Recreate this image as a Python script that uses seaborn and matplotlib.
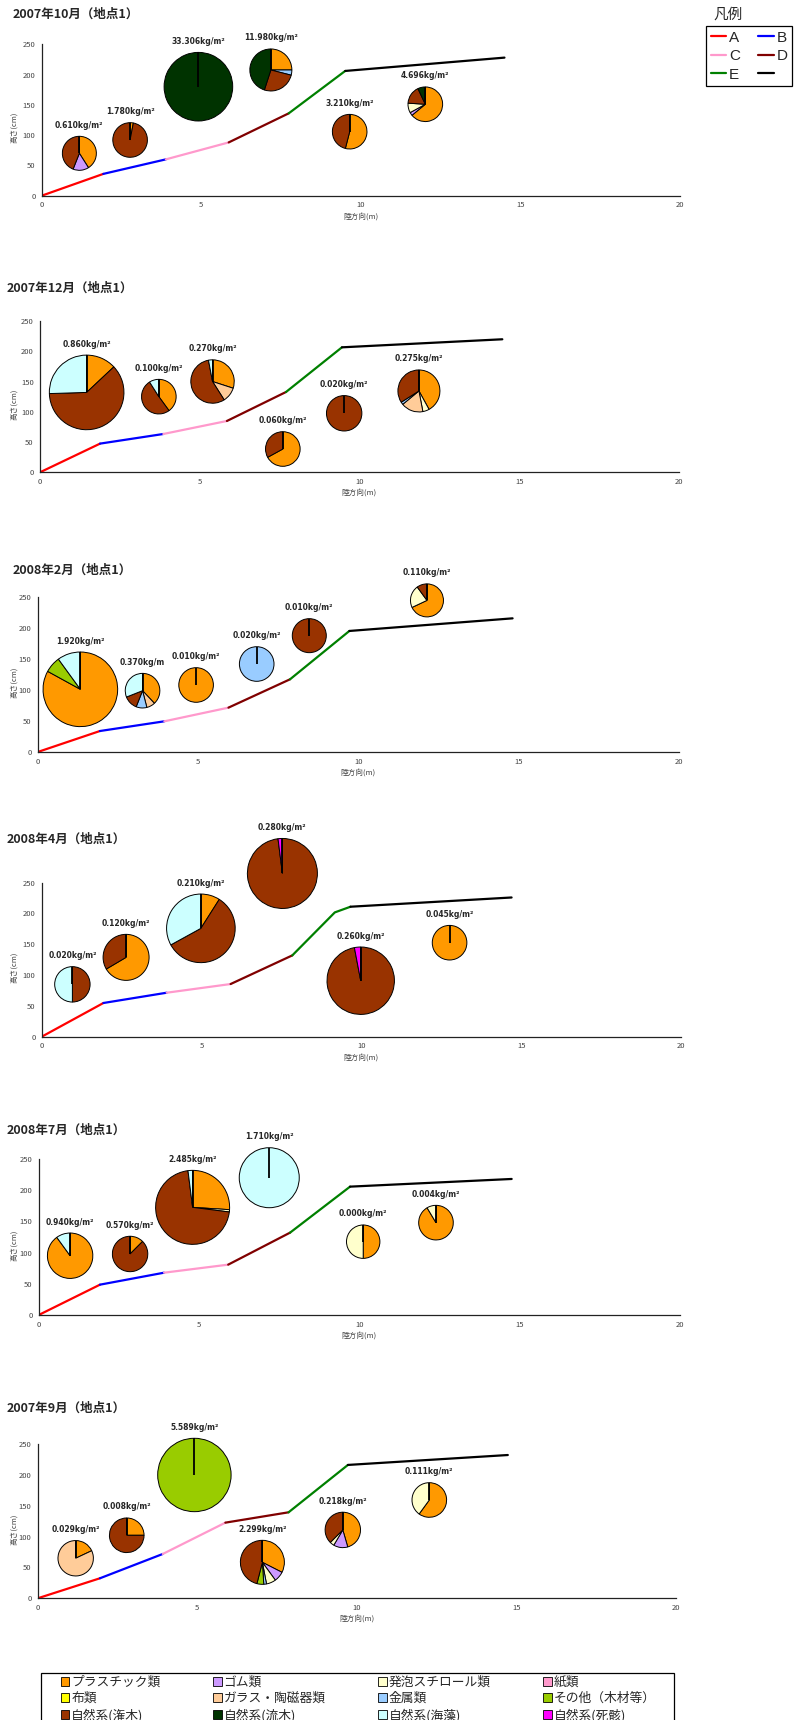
import numpy as np
import pandas as pd
import matplotlib
matplotlib.use('Agg')
import matplotlib.pyplot as plt
import matplotlib.patches as mpatches
from matplotlib.lines import Line2D
import seaborn as sns

# ---- categories (Excel pie order, clockwise from 12 o'clock) ----
categories = ['プラスチック類', 'ゴム類', '発泡スチロール類', '紙類',
              '布類', 'ガラス・陶磁器類', '金属類', 'その他（木材等）',
              '自然系(潅木)', '自然系(流木)', '自然系(海藻)', '自然系(死骸)']
cat_colors = ['#FF9900', '#CC99FF', '#FFFFCC', '#FF99CC',
              '#FFFF00', '#FFCC99', '#99CCFF', '#99CC00',
              '#993300', '#003300', '#CCFFFF', '#FF00FF']

seg_names = ['A', 'B', 'C', 'D', 'E', 'F']
seg_labels = ['A', 'B', 'C', 'D', 'E', '']
seg_colors = ['#FF0000', '#0000FF', '#FF99CC', '#800000', '#008000', '#000000']

# ---- 2007年10月 ----
oct07_prof_x = [0, 1.93, 3.89, 5.86, 7.74, 9.51, 14.5]
oct07_prof_y = [0, 36, 60, 88, 136, 206, 228]
oct07_prof_seg = ['A', 'B', 'C', 'D', 'E', 'F']
oct07_pie_x = [1.18, 2.77, 4.91, 7.18, 9.65, 12.02]
oct07_pie_y = [70, 92, 180, 207.6, 105.7, 151]
oct07_labels = ['0.610kg/m²', '1.780kg/m²', '33.306kg/m²', '11.980kg/m²', '3.210kg/m²', '4.696kg/m²']
oct07_share = [
    [41, 15, 0, 0, 0, 0, 0, 0, 44, 0, 0, 0],
    [3, 0, 0, 0, 0, 0, 0, 0, 97, 0, 0, 0],
    [0, 0, 0, 0, 0, 0, 0, 0, 0, 100, 0, 0],
    [25, 0, 0, 0, 0, 0, 4, 0, 26, 45, 0, 0],
    [54, 0, 0, 0, 0, 0, 0, 0, 46, 0, 0, 0],
    [64, 3, 9, 0, 0, 0, 0, 0, 17, 7, 0, 0],
]

# ---- 2007年12月 ----
dec07_prof_x = [0, 1.88, 3.86, 5.85, 7.70, 9.45, 14.47]
dec07_prof_y = [0, 47.4, 63.3, 84.8, 132.7, 206.5, 219.8]
dec07_prof_seg = ['A', 'B', 'C', 'D', 'E', 'F']
dec07_pie_x = [1.46, 3.72, 5.40, 7.60, 9.52, 11.86]
dec07_pie_y = [132, 125, 150, 38.5, 97.5, 134.4]
dec07_labels = ['0.860kg/m²', '0.100kg/m²', '0.270kg/m²', '0.060kg/m²', '0.020kg/m²', '0.275kg/m²']
dec07_share = [
    [13, 0, 0, 0, 0, 0, 0, 0, 61.5, 0, 25.5, 0],
    [40, 0, 0, 0, 0, 0, 0, 0, 51, 0, 9, 0],
    [30, 0, 0, 0, 0, 11, 0, 0, 56, 0, 3, 0],
    [67, 0, 0, 0, 0, 0, 0, 0, 33, 0, 0, 0],
    [0, 0, 0, 0, 0, 0, 0, 0, 100, 0, 0, 0],
    [42, 0, 5, 0, 0, 17, 2, 0, 34, 0, 0, 0],
]

# ---- 2008年2月 ----
feb08_prof_x = [0, 1.94, 3.95, 5.95, 7.87, 9.72, 14.81]
feb08_prof_y = [0, 33.9, 49.6, 71.7, 117.5, 195.6, 216]
feb08_prof_seg = ['A', 'B', 'C', 'D', 'E', 'F']
feb08_pie_x = [1.33, 3.27, 4.94, 6.83, 8.47, 12.14]
feb08_pie_y = [101.3, 99.1, 108.3, 142.2, 188, 245]
feb08_labels = ['1.920kg/m²', '0.370kg/m', '0.010kg/m²', '0.020kg/m²', '0.010kg/m²', '0.110kg/m²']
feb08_share = [
    [83, 0, 0, 0, 0, 0, 0, 7, 0, 0, 10, 0],
    [38, 0, 0, 0, 0, 8, 10, 0, 13, 0, 31, 0],
    [100, 0, 0, 0, 0, 0, 0, 0, 0, 0, 0, 0],
    [0, 0, 0, 0, 0, 0, 100, 0, 0, 0, 0, 0],
    [0, 0, 0, 0, 0, 0, 0, 0, 100, 0, 0, 0],
    [68, 0, 22, 0, 0, 0, 0, 0, 10, 0, 0, 0],
]

# ---- 2008年4月 ----
apr08_prof_x = [0, 1.93, 3.91, 5.91, 7.84, 9.17, 9.66, 14.70]
apr08_prof_y = [0, 54.7, 71.4, 85.5, 132, 201.8, 211, 226]
apr08_prof_seg = ['A', 'B', 'C', 'D', 'E', 'E', 'F']
apr08_pie_x = [0.96, 2.64, 4.98, 7.53, 9.98, 12.76]
apr08_pie_y = [85, 128.8, 175.9, 265, 90.9, 152.6]
apr08_labels = ['0.020kg/m²', '0.120kg/m²', '0.210kg/m²', '0.280kg/m²', '0.260kg/m²', '0.045kg/m²']
apr08_share = [
    [0, 0, 0, 0, 0, 0, 0, 0, 50, 0, 50, 0],
    [66.5, 0, 0, 0, 0, 0, 0, 0, 33.5, 0, 0, 0],
    [9, 0, 0, 0, 0, 0, 0, 0, 58, 0, 33, 0],
    [0, 0, 0, 0, 0, 0, 0, 0, 98, 0, 0, 2],
    [0, 0, 0, 0, 0, 0, 0, 0, 97, 0, 0, 3],
    [100, 0, 0, 0, 0, 0, 0, 0, 0, 0, 0, 0],
]

# ---- 2008年7月 ----
jul08_prof_x = [0, 1.91, 3.91, 5.91, 7.84, 9.71, 14.75]
jul08_prof_y = [0, 48.6, 67.8, 80.7, 132, 205.7, 218]
jul08_prof_seg = ['A', 'B', 'C', 'D', 'E', 'F']
jul08_pie_x = [0.98, 2.85, 4.80, 7.19, 10.12, 12.39]
jul08_pie_y = [95, 97.8, 172.5, 220, 117.5, 148]
jul08_labels = ['0.940kg/m²', '0.570kg/m²', '2.485kg/m²', '1.710kg/m²', '0.000kg/m²', '0.004kg/m²']
jul08_share = [
    [90, 0, 0, 0, 0, 0, 0, 0, 0, 0, 10, 0],
    [12.5, 0, 0, 0, 0, 0, 0, 0, 87.5, 0, 0, 0],
    [26, 0, 1, 0, 0, 0, 0, 0, 71, 0, 2, 0],
    [0, 0, 0, 0, 0, 0, 0, 0, 0, 0, 100, 0],
    [50, 0, 50, 0, 0, 0, 0, 0, 0, 0, 0, 0],
    [91.4, 0, 8.6, 0, 0, 0, 0, 0, 0, 0, 0, 0],
]

# ---- 2007年9月 ----
sep07_prof_x = [0, 1.95, 3.92, 5.88, 7.86, 9.72, 14.73]
sep07_prof_y = [0, 32.5, 72, 122.8, 139.6, 216.5, 232.6]
sep07_prof_seg = ['A', 'B', 'C', 'D', 'E', 'F']
sep07_pie_x = [1.19, 2.79, 4.91, 7.04, 9.56, 12.27]
sep07_pie_y = [65, 102.3, 200.2, 58.4, 111, 159.6]
sep07_labels = ['0.029kg/m²', '0.008kg/m²', '5.589kg/m²', '2.299kg/m²', '0.218kg/m²', '0.111kg/m²']
sep07_share = [
    [18, 0, 0, 0, 0, 82, 0, 0, 0, 0, 0, 0],
    [25, 0, 0, 0, 0, 0, 0, 0, 75, 0, 0, 0],
    [0, 0, 0, 0, 0, 0, 0, 100, 0, 0, 0, 0],
    [32.5, 7.5, 7, 0, 0, 0, 2, 5, 46, 0, 0, 0],
    [45.5, 13, 4, 0, 0, 0, 0, 0, 37.5, 0, 0, 0],
    [60, 0, 40, 0, 0, 0, 0, 0, 0, 0, 0, 0],
]

titles = ['2007年10月（地点1）', '2007年12月（地点1）', '2008年2月（地点1）',
          '2008年4月（地点1）', '2008年7月（地点1）', '2007年9月（地点1）']

# pie radii in pixels (drawing size)
pie_r = [
    [17, 17.3, 34.3, 21, 17.3, 17.3],
    [37.3, 17.3, 21.7, 17.3, 17.7, 21],
    [37.3, 17.3, 17.3, 17.3, 17, 16.5],
    [17.7, 23, 34.3, 35, 33.7, 17.3],
    [22.7, 17.7, 37, 30, 16.7, 17.3],
    [17.7, 17.3, 36.7, 22, 17.7, 17.3],
]

# axes boxes in pixels: left, right, top, bottom, title x, title y
layout = [
    (41.7, 680, 44.3, 195.7, 12.7, 14),
    (40, 679, 321, 472.3, 6.7, 288),
    (37.7, 679, 597.3, 752, 12.7, 570),
    (41.7, 681, 882.7, 1036.7, 6.7, 839),
    (38.7, 680, 1159, 1315, 6.7, 1130),
    (37.7, 676, 1444.3, 1598.3, 6.7, 1408),
]

panels = [
    (oct07_prof_x, oct07_prof_y, oct07_prof_seg, oct07_pie_x, oct07_pie_y, oct07_labels, oct07_share),
    (dec07_prof_x, dec07_prof_y, dec07_prof_seg, dec07_pie_x, dec07_pie_y, dec07_labels, dec07_share),
    (feb08_prof_x, feb08_prof_y, feb08_prof_seg, feb08_pie_x, feb08_pie_y, feb08_labels, feb08_share),
    (apr08_prof_x, apr08_prof_y, apr08_prof_seg, apr08_pie_x, apr08_pie_y, apr08_labels, apr08_share),
    (jul08_prof_x, jul08_prof_y, jul08_prof_seg, jul08_pie_x, jul08_pie_y, jul08_labels, jul08_share),
    (sep07_prof_x, sep07_prof_y, sep07_prof_seg, sep07_pie_x, sep07_pie_y, sep07_labels, sep07_share),
]

sns.set_theme(style='white')
plt.rcParams['font.family'] = ['Noto Sans CJK JP', 'DejaVu Sans']

W, H = 798, 1720
fig = plt.figure(figsize=(W / 100, H / 100), dpi=100)
palette = dict(zip(seg_names, seg_colors))


def profile_frame(xs, ys, segs):
    rows = []
    for i, s in enumerate(segs):
        rows.append((xs[i], ys[i], s))
        rows.append((xs[i + 1], ys[i + 1], s))
    df = pd.DataFrame(rows, columns=['dist', 'height', 'seg'])
    return df.drop_duplicates()


def draw_pie(ax, cx, cy, share, r_px, label):
    bb = ax.get_window_extent()
    rx = r_px / (bb.width / 20)
    ry = r_px / (bb.height / 250)
    axin = ax.inset_axes([cx - rx, cy - ry, 2 * rx, 2 * ry], transform=ax.transData)
    vals = [v for v in share if v > 0]
    cols = [c for v, c in zip(share, cat_colors) if v > 0]
    wedges, _ = axin.pie(vals, colors=cols, startangle=90, counterclock=False,
                         wedgeprops=dict(edgecolor='black', linewidth=0.7))
    for w in wedges:
        w.set_clip_on(False)
    axin.plot([0, 0], [0, 1], color='black', lw=1.3, solid_capstyle='butt', clip_on=False)
    axin.set_xlim(-1, 1)
    axin.set_ylim(-1, 1)
    axin.axis('off')
    ax.annotate(label, (cx, cy), xytext=(0, r_px + 11), textcoords='offset pixels',
                ha='center', va='center', fontsize=5.5, fontweight='bold',
                family='DejaVu Sans', annotation_clip=False)


for k, (px, py, pseg, cx, cy, labs, shares) in enumerate(panels):
    l, r, t, b, tx, ty = layout[k]
    ax = fig.add_axes([l / W, 1 - b / H, (r - l) / W, (b - t) / H])
    df = profile_frame(px, py, pseg)
    sns.lineplot(data=df, x='dist', y='height', hue='seg', palette=palette,
                 sort=False, estimator=None, legend=False, linewidth=1.6, ax=ax)
    ax.set_xlim(0, 20)
    ax.set_ylim(0, 250)
    ax.set_xticks([0, 5, 10, 15, 20])
    ax.set_yticks([0, 50, 100, 150, 200, 250])
    sns.despine(ax=ax)
    for sp in ['left', 'bottom']:
        ax.spines[sp].set_color('#222222')
        ax.spines[sp].set_linewidth(0.9)
    ax.tick_params(axis='both', labelsize=5.5, colors='#222222', labelcolor='#444444',
                   length=3, width=0.8, pad=1.5)
    ax.tick_params(axis='x', direction='inout', pad=2.5)
    ax.tick_params(axis='y', direction='out')
    ax.set_xlabel('陸方向(m)', fontsize=5.5, color='#444444')
    ax.set_ylabel('高さ(cm)', fontsize=5.5, color='#444444')
    ax.xaxis.set_label_coords(0.5, -17.5 / (b - t))
    ax.yaxis.set_label_coords(-(l - 18.5) / (r - l), 0.45)
    fig.text(tx / W, 1 - ty / H, titles[k], fontsize=9, fontweight='bold',
             ha='left', va='center')
    for i in range(len(cx)):
        draw_pie(ax, cx[i], cy[i], shares[i], pie_r[k][i], labs[i])

# legend for profile segments (top right)
fig.text(713 / W, 1 - 15 / H, '凡例', fontsize=10.5, ha='left', va='center')
seg_handles = [Line2D([0], [0], color=c, lw=1.6) for c in seg_colors]
order = [0, 2, 4, 1, 3, 5]
leg1 = fig.legend([seg_handles[i] for i in order], [seg_labels[i] for i in order],
                  ncol=2, loc='upper left', bbox_to_anchor=(706 / W, 1 - 26 / H),
                  prop={'family': 'Liberation Sans', 'size': 11},
                  handlelength=1.0, handletextpad=0.2, columnspacing=1.2,
                  labelspacing=0.3, borderpad=0.3, borderaxespad=0,
                  frameon=True, fancybox=False, framealpha=1, edgecolor='black')
leg1.get_frame().set_linewidth(0.9)

# legend for debris categories (bottom), filled row by row
cat_handles = [mpatches.Patch(facecolor=c, edgecolor='black', linewidth=0.6) for c in cat_colors]
row_major = [0, 4, 8, 1, 5, 9, 2, 6, 10, 3, 7, 11]
fig.add_artist(mpatches.Rectangle((41 / W, -0.01), 633 / W, 0.01 + (1720 - 1673) / H,
                                  transform=fig.transFigure, fill=False,
                                  edgecolor='black', linewidth=0.9))
fig.legend([cat_handles[i] for i in row_major], [categories[i] for i in row_major],
           ncol=4, loc='upper left', bbox_to_anchor=(61 / W, 1 - 1676 / H),
           fontsize=9.2, handlelength=0.65, handleheight=0.65, handletextpad=0.15,
           labelspacing=0.25, columnspacing=4.13, borderpad=0, borderaxespad=0,
           frameon=False)

fig.savefig('out.png', dpi=100, facecolor='white')
